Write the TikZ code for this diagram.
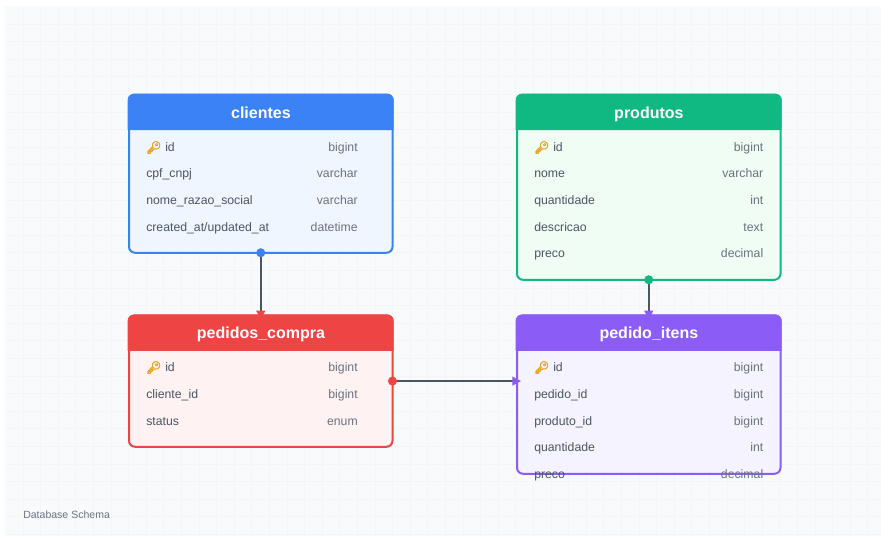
\documentclass[tikz,border=0pt]{standalone}
\usepackage{fontspec}
\setmainfont{Liberation Sans}
\newfontfamily\emojifont[FakeBold=3]{Noto Emoji}
\usetikzlibrary{arrows.meta,calc}
\definecolor{gridc}{HTML}{F3F5F7}
\definecolor{bgc}{HTML}{F9FAFC}
\definecolor{cblue}{HTML}{3B82F6}\definecolor{lblue}{HTML}{EFF6FF}
\definecolor{cgreen}{HTML}{10B981}\definecolor{lgreen}{HTML}{F0FDF4}
\definecolor{cred}{HTML}{EF4444}\definecolor{lred}{HTML}{FEF2F2}
\definecolor{cpurple}{HTML}{8B5CF6}\definecolor{lpurple}{HTML}{F5F3FF}
\definecolor{fieldc}{HTML}{4B5563}
\definecolor{typec}{HTML}{6B7280}
\definecolor{keyc}{HTML}{E5A323}
\tikzset{
  px/.style={x=0.75pt,y=-0.75pt},
  bodybox/.style={rectangle,rounded corners=4.5pt,line width=1.5pt,outer sep=0pt,inner sep=0pt},
  titletext/.style={text=white,font=\fontsize{12}{14}\selectfont\bfseries,inner sep=0pt,anchor=base},
  fieldname/.style={text=fieldc,font=\fontsize{9.2}{11}\selectfont,anchor=base west,inner sep=0pt},
  fieldtype/.style={text=typec,font=\fontsize{9.2}{11}\selectfont,anchor=base east,inner sep=0pt},
  keyicon/.style={text=keyc,font=\emojifont\fontsize{9}{11}\selectfont,anchor=base west,inner sep=0pt},
  link/.style={draw=fieldc,line width=1.5pt},
  dotmark/.style={circle,minimum size=6.8pt,inner sep=0pt,outer sep=0pt},
}
% name, x0, y0, x1, y1 (outer px), colour, light, title
\newcommand{\entitybox}[8]{%
  \node[bodybox,draw=#6,fill=#7,minimum width={(#4-#2-1.5)*0.75pt},minimum height={(#5-#3-1.5)*0.75pt}]
    (#1) at ({(#2+#4)/2+0.25},{(#3+#5)/2}) {};
  \fill[#6,rounded corners=4.5pt] (#2-0.3,#3+36.2) [sharp corners] -- (#2-0.3,#3+10) [rounded corners=4.5pt] -- (#2-0.3,#3) -- (#4+0.6,#3) -- (#4+0.6,#3+10) [sharp corners] -- (#4+0.6,#3+36.2) -- cycle;
  \node[titletext] (#1title) at ({(#2+#4)/2+0.4},{#3+24.3}) {#8};
}
% node name, x, baseline y, text
\newcommand{\fname}[4]{\node[fieldname] (#1) at (#2,#3) {#4};}
\newcommand{\ftype}[4]{\node[fieldtype] (#1) at (#2,#3) {#4};}
\newcommand{\fkey}[3]{%
  \node[keyicon] (#1k) at (#2,#3) {🔑};
  \node[fieldname] (#1) at (#2+19,#3) {id};}
\begin{document}
\begin{tikzpicture}[px]
\useasboundingbox (0,0) rectangle (881,540);
\fill[white] (0,0) rectangle (881,540);
\fill[bgc] (5,6) rectangle (881,536);
\begin{scope}[gridc,line width=0.75pt]
\foreach \k in {1,...,49} \draw ({5.4+17.6*\k},6) -- ({5.4+17.6*\k},536);
\foreach \k in {1,...,30} \draw (5,{6.4+17.6*\k}) -- (881,{6.4+17.6*\k});
\end{scope}

\entitybox{clientes}{128}{93.8}{393}{253.5}{cblue}{lblue}{clientes}
\entitybox{produtos}{516}{93.8}{781}{280.5}{cgreen}{lgreen}{produtos}
\entitybox{pedidos}{128}{314.6}{393}{447.5}{cred}{lred}{pedidos\_compra}
\entitybox{itens}{516}{314.6}{781}{474.5}{cpurple}{lpurple}{pedido\_itens}

% clientes
\fkey{c1}{146}{151.6} \ftype{c1t}{358}{151.6}{bigint}
\fname{c2}{146}{177.6}{cpf\_cnpj} \ftype{c2t}{358}{177.6}{varchar}
\fname{c3}{146}{204.4}{nome\_razao\_social} \ftype{c3t}{358}{204.4}{varchar}
\fname{c4}{146}{231}{created\_at/updated\_at} \ftype{c4t}{358}{231}{datetime}
% produtos
\fkey{p1}{534}{151.6} \ftype{p1t}{763.5}{151.6}{bigint}
\fname{p2}{534}{177.6}{nome} \ftype{p2t}{763.5}{177.6}{varchar}
\fname{p3}{534}{204.4}{quantidade} \ftype{p3t}{763.5}{204.4}{int}
\fname{p4}{534}{231}{descricao} \ftype{p4t}{763.5}{231}{text}
\fname{p5}{534}{257.6}{preco} \ftype{p5t}{763.5}{257.6}{decimal}
% pedidos_compra
\fkey{o1}{146}{371.6} \ftype{o1t}{358}{371.6}{bigint}
\fname{o2}{146}{398.4}{cliente\_id} \ftype{o2t}{358}{398.4}{bigint}
\fname{o3}{146}{425}{status} \ftype{o3t}{358}{425}{enum}
% pedido_itens
\fkey{i1}{534}{371.6} \ftype{i1t}{763.5}{371.6}{bigint}
\fname{i2}{534}{398.4}{pedido\_id} \ftype{i2t}{763.5}{398.4}{bigint}
\fname{i3}{534}{425}{produto\_id} \ftype{i3t}{763.5}{425}{bigint}
\fname{i4}{534}{451.6}{quantidade} \ftype{i4t}{763.5}{451.6}{int}
\fname{i5}{534}{478}{preco} \ftype{i5t}{763.5}{478}{decimal}

% connectors
\coordinate (itensin) at (itens.west |- pedidos.east);
\draw[link,shorten >=-3pt,-{Triangle[length=6.5pt,width=6.5pt,color=cred]}] (clientes.south) -- (pedidos.north);
\draw[link,shorten >=-3pt,-{Triangle[length=6.5pt,width=6.5pt,color=cpurple]}] (produtos.south) -- (itens.north);
\draw[link,shorten >=-3pt,-{Triangle[length=6.5pt,width=6.5pt,color=cpurple]}] (pedidos.east) -- (itensin);
\node[dotmark,fill=cblue] (d1) at (clientes.south) {};
\node[dotmark,fill=cgreen] (d2) at (produtos.south) {};
\node[dotmark,fill=cred] (d3) at (pedidos.east) {};

\node[anchor=base west,inner sep=0pt,text=typec,font=\fontsize{7.9}{10}\selectfont] (caption) at (23,518) {Database Schema};
\end{tikzpicture}
\end{document}
